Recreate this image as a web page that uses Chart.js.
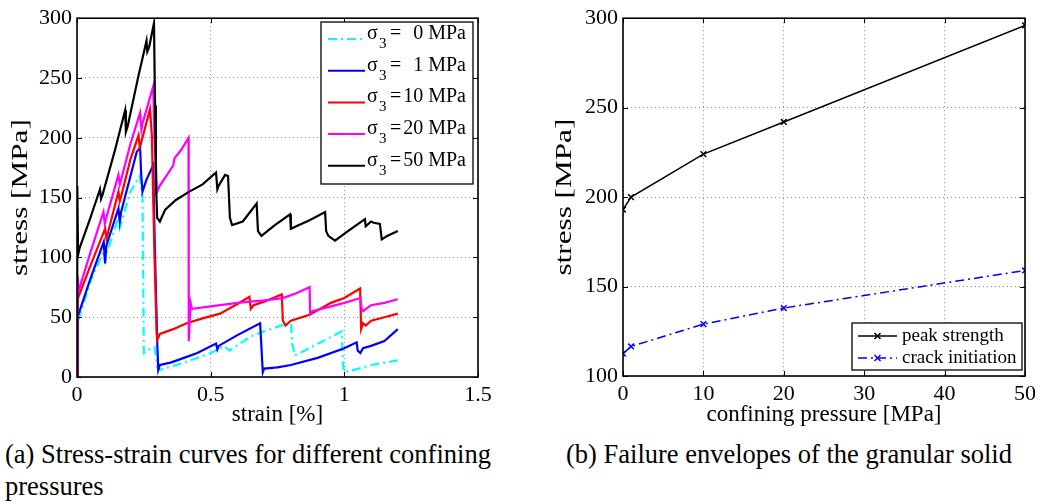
<!DOCTYPE html>
<html>
<head>
<meta charset="utf-8">
<script src="https://cdn.jsdelivr.net/npm/chart.js@4.4.1/dist/chart.umd.min.js"></script>
<style>
  body { margin: 0; background: #fff; width: 1041px; height: 504px; overflow: hidden; position: relative; font-family: "Liberation Serif", serif; }
  canvas { position: absolute; top: 0; }
  #left { left: 0; }
  #right { left: 540px; }
  .cap { position: absolute; font-size: 26.5px; color: #000; white-space: nowrap; line-height: 32px; }
</style>
</head>
<body>
<canvas id="left" width="500" height="430"></canvas>
<canvas id="right" width="501" height="430"></canvas>
<div class="cap" style="left:5px; top:438px;">(a) Stress-strain curves for different confining<br>pressures</div>
<div class="cap" style="left:566px; top:438px;">(b) Failure envelopes of the granular solid</div>
<script>
// (a) stress-strain curves, strain in %, stress in MPa
const strain0 = [0, 0.002, 0.05, 0.1, 0.105, 0.11, 0.155, 0.16, 0.2, 0.235, 0.245, 0.25, 0.26, 0.29, 0.30, 0.31, 0.4, 0.5, 0.55, 0.57, 0.65, 0.7, 0.8, 0.805, 0.815, 0.85, 0.99, 0.995, 1.0, 1.02, 1.1, 1.2];
const stress0 = [0, 45, 80, 105, 98, 103, 133, 125, 155, 168, 150, 20, 22, 25, 8, 6, 12, 20, 26, 22, 34, 38, 46, 28, 18, 22, 38, 10, 4, 5, 10, 14];

const strain1 = [0, 0.002, 0.05, 0.1, 0.105, 0.11, 0.155, 0.16, 0.165, 0.2, 0.223, 0.236, 0.24, 0.245, 0.26, 0.285, 0.29, 0.30, 0.304, 0.31, 0.35, 0.4, 0.45, 0.52, 0.525, 0.53, 0.6, 0.685, 0.695, 0.70, 0.75, 0.8, 0.9, 1.0, 1.046, 1.05, 1.06, 1.07, 1.1, 1.15, 1.2];
const stress1 = [0, 50, 82, 113, 95, 110, 141, 130, 138, 168, 188, 192, 170, 155, 165, 177, 120, 30, 6, 10, 12, 16, 20, 28, 23, 26, 35, 45, 4, 7, 8, 10, 16, 24, 29, 22, 20, 24, 26, 30, 40];

const strain10 = [0, 0.001, 0.003, 0.05, 0.105, 0.11, 0.115, 0.155, 0.16, 0.165, 0.2, 0.23, 0.235, 0.24, 0.273, 0.28, 0.29, 0.298, 0.30, 0.31, 0.36, 0.41, 0.47, 0.535, 0.6, 0.645, 0.65, 0.66, 0.7, 0.766, 0.77, 0.78, 0.8, 0.87, 0.95, 1.0, 1.059, 1.063, 1.07, 1.08, 1.1, 1.15, 1.2];
const stress10 = [0, 40, 65, 93, 124, 116, 120, 155, 147, 151, 182, 202, 192, 196, 224, 202, 100, 36, 31, 36, 40, 45, 49, 53, 61, 67, 57, 60, 63, 69, 47, 43, 47, 52, 62, 66, 74, 40, 45, 43, 47, 50, 53];

const strain20 = [0, 0.002, 0.006, 0.05, 0.099, 0.104, 0.108, 0.155, 0.16, 0.165, 0.2, 0.236, 0.241, 0.245, 0.285, 0.29, 0.30, 0.31, 0.34, 0.36, 0.365, 0.39, 0.417, 0.418, 0.425, 0.43, 0.5, 0.6, 0.7, 0.77, 0.82, 0.87, 0.872, 0.88, 0.95, 1.0, 1.06, 1.065, 1.07, 1.1, 1.15, 1.2];
const stress20 = [0, 85, 72, 104, 138, 128, 132, 169, 161, 165, 195, 221, 207, 212, 243, 200, 155, 160, 170, 177, 183, 190, 200, 30, 62, 57, 59, 62, 64, 66, 70, 75, 53, 55, 59, 62, 66, 57, 55, 60, 62, 65];

const strain50 = [0, 0.001, 0.004, 0.01, 0.05, 0.086, 0.09, 0.095, 0.14, 0.18, 0.183, 0.19, 0.23, 0.26, 0.263, 0.27, 0.288, 0.29, 0.292, 0.295, 0.30, 0.31, 0.33, 0.37, 0.42, 0.47, 0.52, 0.525, 0.53, 0.554, 0.565, 0.572, 0.58, 0.62, 0.672, 0.677, 0.69, 0.74, 0.797, 0.80, 0.82, 0.87, 0.928, 0.932, 0.94, 0.965, 1.02, 1.077, 1.08, 1.1, 1.11, 1.133, 1.14, 1.16, 1.2];
const stress50 = [0, 160, 102, 108, 133, 157, 149, 152, 188, 223, 205, 210, 252, 281, 272, 276, 296, 260, 227, 163, 133, 130, 140, 148, 155, 161, 171, 157, 160, 169, 168, 133, 127, 130, 145, 122, 118, 127, 136, 124, 126, 131, 138, 122, 118, 114, 123, 132, 126, 130, 129, 128, 115, 118, 122];

const sigma3 = ['0', '1', '10', '20', '50'];
const strainTicks = [0, 0.5, 1, 1.5];
const stressTicksA = [0, 50, 100, 150, 200, 250, 300];

// (b) failure envelopes
const pressure = [0, 1, 10, 20, 50];
const peakStrength = [193, 200, 224, 242, 296];
const crackInit = [112.5, 116.5, 129, 138, 159];
const pressureTicks = [0, 10, 20, 30, 40, 50];
const stressTicksB = [100, 150, 200, 250, 300];

const serif = 'Liberation Serif';
const pts = (xs, ys) => xs.map((x, i) => ({ x: x, y: ys[i] }));

// frame + inward ticks like matlab
const framePlugin = {
  id: 'frame',
  afterDatasetsDraw(chart) {
    const { ctx, chartArea: a, scales } = chart;
    ctx.save();
    ctx.strokeStyle = '#000';
    ctx.lineWidth = 1;
    ctx.beginPath();
    scales.x.ticks.forEach(t => {
      const px = Math.round(scales.x.getPixelForValue(t.value)) + 0.5;
      ctx.moveTo(px, a.bottom); ctx.lineTo(px, a.bottom - 5);
      ctx.moveTo(px, a.top); ctx.lineTo(px, a.top + 5);
    });
    scales.y.ticks.forEach(t => {
      const py = Math.round(scales.y.getPixelForValue(t.value)) + 0.5;
      ctx.moveTo(a.left, py); ctx.lineTo(a.left + 5, py);
      ctx.moveTo(a.right, py); ctx.lineTo(a.right - 5, py);
    });
    ctx.stroke();
    ctx.lineWidth = 1.6;
    ctx.strokeRect(a.left, a.top, a.right - a.left, a.bottom - a.top);

    // y title, stretched along its length like the source figure
    const yt = chart.options.plugins.ytitle;
    ctx.translate(yt.x, (a.top + a.bottom) / 2);
    ctx.rotate(-Math.PI / 2);
    ctx.scale(1.3, 1);
    ctx.fillStyle = '#000';
    ctx.font = '24px "' + serif + '"';
    ctx.textAlign = 'center';
    ctx.textBaseline = 'middle';
    ctx.fillText(yt.text, 0, 0);
    ctx.restore();
  }
};

const legendA = {
  id: 'legendA',
  afterDraw(chart) {
    const ctx = chart.ctx;
    ctx.save();
    ctx.fillStyle = '#fff';
    ctx.fillRect(321, 22, 152, 162);
    ctx.strokeStyle = '#000';
    ctx.lineWidth = 1.3;
    ctx.strokeRect(321, 22, 152, 162);
    chart.data.datasets.forEach((ds, i) => {
      const cy = 39 + i * 31.7;
      ctx.strokeStyle = ds.borderColor;
      ctx.lineWidth = 2;
      ctx.setLineDash(ds.borderDash || []);
      ctx.beginPath(); ctx.moveTo(328, cy); ctx.lineTo(365, cy); ctx.stroke();
      ctx.setLineDash([]);
      ctx.fillStyle = '#000';
      ctx.textBaseline = 'alphabetic';
      ctx.textAlign = 'left';
      ctx.font = '20px "' + serif + '"';
      ctx.fillText('σ', 367, cy);
      ctx.fillText('=', 390, cy);
      ctx.font = '15px "' + serif + '"';
      ctx.fillText('3', 379, cy + 9);
      ctx.font = '20px "' + serif + '"';
      ctx.textAlign = 'right';
      ctx.fillText(sigma3[i] + ' MPa', 466, cy);
    });
    ctx.restore();
  }
};

const legendB = {
  id: 'legendB',
  afterDraw(chart) {
    const ctx = chart.ctx;
    const ox = 540;
    ctx.save();
    ctx.fillStyle = '#fff';
    ctx.fillRect(852 - ox, 323, 170, 47);
    ctx.strokeStyle = '#000';
    ctx.lineWidth = 1.3;
    ctx.strokeRect(852 - ox, 323, 170, 47);
    chart.data.datasets.forEach((ds, i) => {
      const cy = 336 + i * 22;
      ctx.strokeStyle = ds.borderColor;
      ctx.lineWidth = 1.5;
      ctx.setLineDash(ds.borderDash || []);
      ctx.beginPath(); ctx.moveTo(858 - ox, cy); ctx.lineTo(897 - ox, cy); ctx.stroke();
      ctx.setLineDash([]);
      const mx = 877.5 - ox;
      ctx.beginPath();
      ctx.moveTo(mx - 3, cy - 3); ctx.lineTo(mx + 3, cy + 3);
      ctx.moveTo(mx - 3, cy + 3); ctx.lineTo(mx + 3, cy - 3);
      ctx.stroke();
      ctx.fillStyle = '#000';
      ctx.font = '19px "' + serif + '"';
      ctx.textAlign = 'left';
      ctx.textBaseline = 'middle';
      ctx.fillText(ds.label, 902 - ox, cy);
    });
    ctx.restore();
  }
};

function axis(min, max, tickVals, title, isX, size) {
  return {
    type: 'linear',
    min: min, max: max,
    afterBuildTicks: s => { s.ticks = tickVals.map(v => ({ value: v })); },
    afterFit: s => { if (isX) s.height = size; else s.width = size; },
    grid: { color: '#888', lineWidth: 1, drawTicks: false },
    border: { display: false, dash: [1, 3] },
    ticks: {
      color: '#000', padding: 5,
      font: { family: serif, size: 22 },
      callback: v => String(v)
    },
    title: {
      display: isX, text: title, color: '#000',
      font: { family: serif, size: 23 },
      padding: { top: 0, bottom: 1 }
    }
  };
}

const curves = [
  { x: strain0, y: stress0, color: 'rgb(0,255,255)', dash: [9, 4, 2, 4] },
  { x: strain1, y: stress1, color: 'rgb(0,0,255)' },
  { x: strain10, y: stress10, color: 'rgb(255,0,0)' },
  { x: strain20, y: stress20, color: 'rgb(255,0,255)' },
  { x: strain50, y: stress50, color: 'rgb(0,0,0)' }
];

new Chart(document.getElementById('left'), {
  type: 'line',
  data: {
    datasets: curves.map((c, i) => ({
      label: 'σ3 = ' + sigma3[i] + ' MPa',
      data: pts(c.x, c.y),
      borderColor: c.color,
      borderWidth: 2.2,
      borderDash: c.dash || [],
      pointRadius: 0,
      tension: 0,
      order: 4 - i
    }))
  },
  options: {
    responsive: false,
    animation: false,
    devicePixelRatio: 1,
    layout: { padding: { top: 15, right: 22, left: 0, bottom: 0 } },
    plugins: { legend: { display: false }, tooltip: { enabled: false }, ytitle: { text: 'stress [MPa]', x: 21 } },
    scales: {
      x: axis(0, 1.5, strainTicks, 'strain [%]', true, 53),
      y: axis(0, 300, stressTicksA, 'stress [MPa]', false, 77)
    }
  },
  plugins: [framePlugin, legendA]
});

new Chart(document.getElementById('right'), {
  type: 'line',
  data: {
    datasets: [
      {
        label: 'peak strength',
        data: pts(pressure, peakStrength),
        borderColor: '#000', borderWidth: 1.5,
        pointStyle: 'crossRot', pointRadius: 4, pointBorderWidth: 1.5,
        pointBorderColor: '#000', tension: 0
      },
      {
        label: 'crack initiation',
        data: pts(pressure, crackInit),
        borderColor: 'rgb(0,0,255)', borderWidth: 1.5, borderDash: [9, 4, 2, 4],
        pointStyle: 'crossRot', pointRadius: 4, pointBorderWidth: 1.5,
        pointBorderColor: 'rgb(0,0,255)', tension: 0
      }
    ]
  },
  options: {
    responsive: false,
    animation: false,
    devicePixelRatio: 1,
    layout: { padding: { top: 14, right: 15, left: 0, bottom: 0 } },
    plugins: { legend: { display: false }, tooltip: { enabled: false }, ytitle: { text: 'stress [MPa]', x: 25 } },
    scales: {
      x: axis(0, 50, pressureTicks, 'confining pressure [MPa]', true, 54),
      y: axis(100, 300, stressTicksB, 'stress [MPa]', false, 83)
    }
  },
  plugins: [framePlugin, legendB]
});
</script>
</body>
</html>
